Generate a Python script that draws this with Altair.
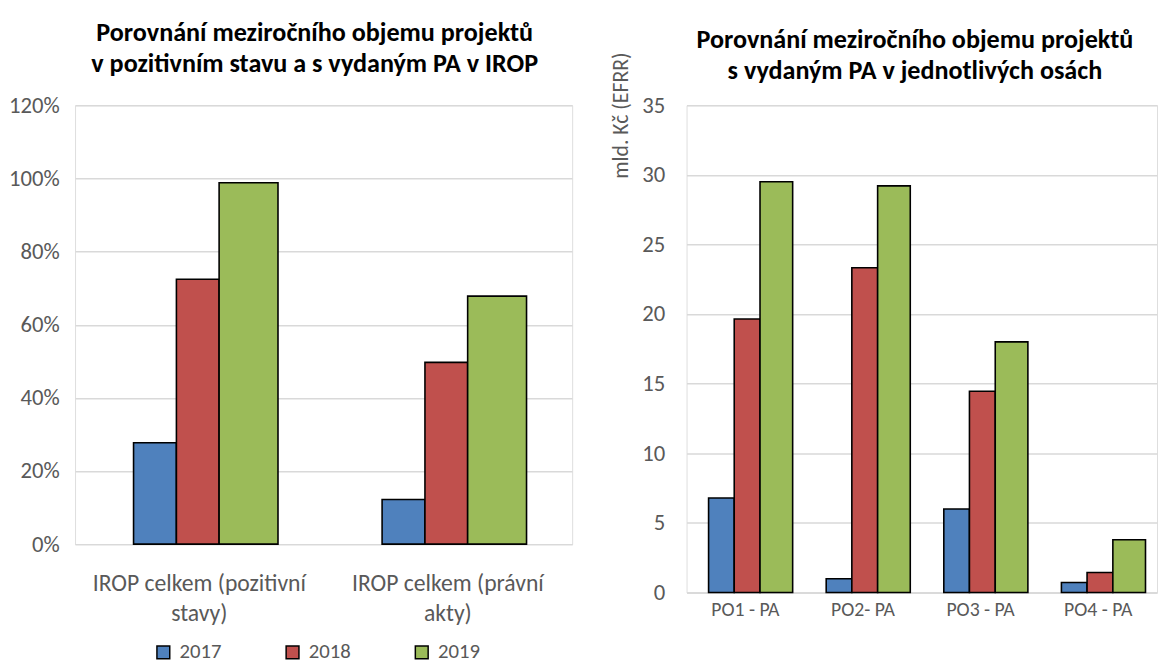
import altair as alt
import pandas as pd

# ---------------- data ----------------
years = ["2017", "2018", "2019"]
colors = ["#4F81BD", "#C0504D", "#9BBB59"]

left_categories = ["IROP celkem (pozitivní stavy)", "IROP celkem (právní akty)"]
left_2017 = [0.277, 0.122]
left_2018 = [0.724, 0.497]
left_2019 = [0.988, 0.678]

right_categories = ["PO1 - PA", "PO2- PA", "PO3 - PA", "PO4 - PA"]
right_2017 = [6.79, 0.98, 6.00, 0.71]
right_2018 = [19.64, 23.33, 14.46, 1.43]
right_2019 = [29.50, 29.21, 18.00, 3.79]

left_title = ["Porovnání meziročního objemu projektů", "v pozitivním stavu a s vydaným PA v IROP"]
right_title = ["Porovnání meziročního objemu projektů", "s vydaným PA v jednotlivých osách"]
right_axis_title = "mld. Kč (EFRR)"


def long_df(cats, series):
    rows = []
    for y, vals in zip(years, series):
        for c, v in zip(cats, vals):
            rows.append({"cat": c, "year": y, "value": v})
    return pd.DataFrame(rows)


left_df = long_df(left_categories, [left_2017, left_2018, left_2019])
right_df = long_df(right_categories, [right_2017, right_2018, right_2019])

FONT = "Calibri, Carlito, Lato, sans-serif"
GRAY = "#595959"
GRID = "#D9D9D9"

# bar styles (pixel width, pixel offset from band centre) per series
LEFT_GEOM = {"2017": (43.4, -45.0), "2018": (43.3, -1.6), "2019": (59.7, 49.9)}
RIGHT_GEOM = {"2017": (26.0, -24.3), "2018": (26.2, 1.8), "2019": (33.1, 31.4)}

color_scale = alt.Scale(domain=years, range=colors)


def bar_layers(df, cats, geom, yenc, legend):
    layers = []
    for yr in years:
        w, off = geom[yr]
        layers.append(
            alt.Chart(df)
            .transform_filter(alt.datum.year == yr)
            .mark_bar(stroke="black", strokeWidth=1.6, width=w, xOffset=off)
            .encode(
                x=alt.X("cat:N", sort=cats, scale=alt.Scale(paddingInner=0, paddingOuter=0)),
                y=yenc,
                color=alt.Color("year:N", scale=color_scale, legend=legend),
            )
        )
    return alt.layer(*layers)


legend = alt.Legend(
    title=None,
    orient="none",
    legendX=79,
    legendY=544,
    direction="horizontal",
    columns=3,
    columnPadding=61,
    symbolType="square",
    symbolSize=169,
    symbolStrokeColor="black",
    symbolStrokeWidth=1.5,
    symbolOpacity=1,
    labelFont=FONT,
    labelFontSize=21,
    labelColor=GRAY,
    labelOffset=6,
)

left_y = alt.Y(
    "value:Q",
    scale=alt.Scale(domain=[0, 1.2], nice=False),
    axis=alt.Axis(
        values=[0, 0.2, 0.4, 0.6, 0.8, 1.0, 1.2],
        format=".0%",
        title=None,
        domain=False,
        ticks=False,
        grid=True,
        gridColor=GRID,
        gridWidth=1.5,
        labelFont=FONT,
        labelFontSize=23,
        labelColor=GRAY,
        labelPadding=16,
    ),
)

left = (
    bar_layers(left_df, left_categories, LEFT_GEOM, left_y, legend)
    .encode(
        x=alt.X(
            "cat:N",
            sort=left_categories,
            scale=alt.Scale(paddingInner=0, paddingOuter=0),
            axis=alt.Axis(
                title=None,
                labelAngle=0,
                ticks=False,
                domainColor=GRID,
                domainWidth=1.5,
                labelFont=FONT,
                labelFontSize=24,
                labelColor=GRAY,
                labelPadding=28,
                labelLimit=400,
                labelLineHeight=30,
                labelExpr="[slice(datum.label, 0, lastindexof(datum.label, ' ')), slice(datum.label, lastindexof(datum.label, ' ') + 1)]",
            ),
        )
    )
    .properties(
        width=504,
        height=445,
        title=alt.TitleParams(
            text=left_title,
            font=FONT,
            fontSize=26.5,
            fontWeight="bold",
            color="black",
            lineHeight=32,
            anchor="middle",
            frame="group",
            dx=-9,
            offset=17,
        ),
    )
)

right_y = alt.Y(
    "value:Q",
    scale=alt.Scale(domain=[0, 35], nice=False),
    axis=alt.Axis(
        values=[0, 5, 10, 15, 20, 25, 30, 35],
        title=right_axis_title,
        titleFont=FONT,
        titleFontSize=22,
        titleFontWeight="normal",
        titleColor=GRAY,
        titleAngle=-90,
        titleAlign="center",
        titleBaseline="alphabetic",
        titleX=-60,
        titleY=10,
        domain=False,
        ticks=False,
        grid=True,
        gridColor=GRID,
        gridWidth=1.5,
        labelFont=FONT,
        labelFontSize=23,
        labelColor=GRAY,
        labelPadding=22,
    ),
)

right = (
    bar_layers(right_df, right_categories, RIGHT_GEOM, right_y, None)
    .encode(
        x=alt.X(
            "cat:N",
            sort=right_categories,
            scale=alt.Scale(paddingInner=0, paddingOuter=0),
            axis=alt.Axis(
                title=None,
                labelAngle=0,
                ticks=False,
                domainColor=GRID,
                domainWidth=1.5,
                labelFont=FONT,
                labelFontSize=20,
                labelColor=GRAY,
                labelPadding=7,
            ),
        )
    )
    .properties(
        width=477,
        height=494,
        title=alt.TitleParams(
            text=right_title,
            font=FONT,
            fontSize=26.5,
            fontWeight="bold",
            color="black",
            lineHeight=32,
            anchor="middle",
            frame="group",
            dx=-7,
            offset=-33,
        ),
    )
)

chart = (
    alt.hconcat(left, right, spacing=36)
    .resolve_scale(color="independent")
    .resolve_legend(color="independent")
    .properties(padding={"top": 7, "left": 0, "right": 0, "bottom": 0})
    .configure_view(stroke=None)
    .configure(font=FONT)
)

chart.save("out.html", embed_options={"renderer": "svg", "actions": False})
